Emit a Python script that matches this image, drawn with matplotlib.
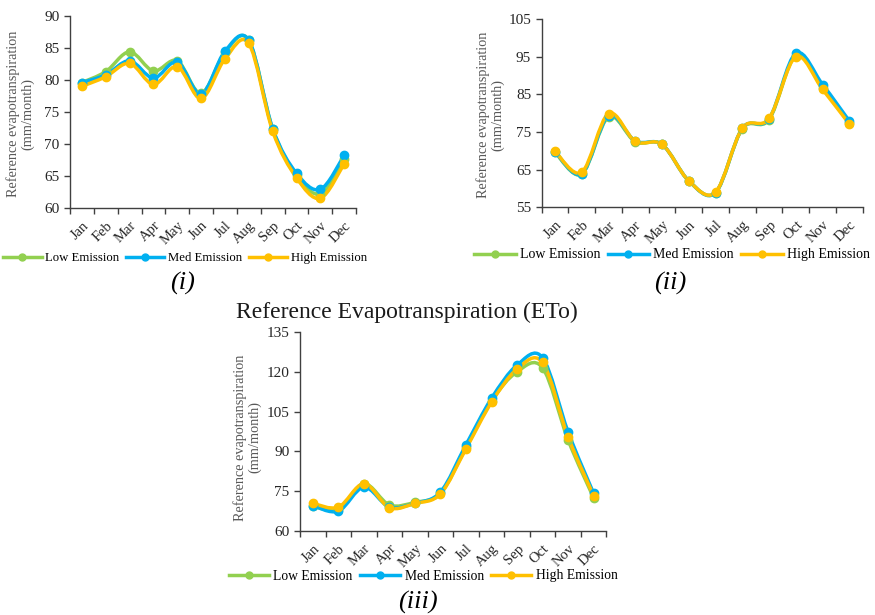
import numpy as np
import matplotlib
matplotlib.use("Agg")
import matplotlib.pyplot as plt
from matplotlib.path import Path
from matplotlib.patches import PathPatch
from matplotlib.lines import Line2D

plt.rcParams['font.family'] = ['Liberation Serif', 'DejaVu Serif']

months = ['Jan', 'Feb', 'Mar', 'Apr', 'May', 'Jun', 'Jul', 'Aug', 'Sep', 'Oct', 'Nov', 'Dec']
scenarios = ['Low Emission', 'Med Emission', 'High Emission']
colors = ['#92D050', '#00B0F0', '#FFC000']

# panel (i)
low_i = [79.6, 81.3, 84.4, 81.4, 83.0, 77.9, 84.3, 86.2, 72.3, 65.1, 62.2, 67.6]
med_i = [79.6, 80.8, 83.0, 80.3, 82.8, 77.8, 84.5, 86.2, 72.4, 65.4, 62.9, 68.2]
high_i = [79.0, 80.5, 82.6, 79.3, 82.1, 77.1, 83.3, 85.7, 72.0, 64.7, 61.5, 66.9]

# panel (ii)
low_ii = [69.6, 63.8, 79.0, 72.4, 71.7, 62.0, 58.9, 75.9, 78.3, 95.3, 86.8, 77.3]
med_ii = [69.8, 63.9, 79.3, 72.6, 71.7, 62.0, 58.9, 76.0, 78.5, 95.9, 87.6, 77.9]
high_ii = [69.9, 64.3, 79.9, 72.5, 71.7, 62.0, 59.0, 76.0, 78.6, 95.0, 86.3, 77.1]

# panel (iii)
low_iii = [69.5, 68.0, 77.8, 69.8, 70.8, 74.2, 91.5, 109.0, 120.0, 121.5, 94.3, 72.5]
med_iii = [69.5, 67.5, 76.5, 69.0, 70.5, 74.7, 92.5, 110.0, 122.5, 125.3, 97.3, 74.2]
high_iii = [70.4, 69.0, 77.8, 68.8, 70.4, 74.0, 91.0, 108.5, 121.0, 123.5, 95.5, 73.3]


def smooth_path(x, y):
    # Bezier segments through the points (same style as a spreadsheet "smoothed line")
    pts = np.column_stack([x, y]).astype(float)
    n = len(pts)
    verts = [pts[0]]
    codes = [Path.MOVETO]
    for i in range(n - 1):
        p0 = pts[i - 1] if i > 0 else pts[i]
        p1 = pts[i]
        p2 = pts[i + 1]
        p3 = pts[i + 2] if i + 2 < n else pts[i + 1]
        c1 = p1 + (p2 - p0) / 6.0
        c2 = p2 - (p3 - p1) / 6.0
        verts += [c1, c2, p2]
        codes += [Path.CURVE4] * 3
    return Path(verts, codes)


def draw_panel(ax, series, ylim, yticks):
    x = np.arange(len(months))
    for vals, c in zip(series, colors):
        ax.add_patch(PathPatch(smooth_path(x, vals), facecolor='none', edgecolor=c,
                               lw=2.5, capstyle='round', joinstyle='round'))
        ax.plot(x, vals, 'o', color=c, ms=6, ls='none')
    ax.set_xlim(-0.5, 11.5)
    ax.set_ylim(*ylim)
    ax.set_yticks(yticks)
    ax.set_xticks(x)
    ax.set_xticks(np.arange(-0.5, 12, 1), minor=True)
    ax.set_xticklabels(months, rotation=45, ha='right', rotation_mode='anchor')
    ax.tick_params(axis='x', which='major', length=0, pad=8, labelsize=10.5, labelcolor='#262626')
    ax.tick_params(axis='x', which='minor', length=4, width=1, color='#404040', direction='out')
    ax.tick_params(axis='y', length=4, width=1, color='#404040', labelsize=11, labelcolor='#262626')
    for s in ['top', 'right']:
        ax.spines[s].set_visible(False)
    for s in ['left', 'bottom']:
        ax.spines[s].set_color('#404040')
        ax.spines[s].set_linewidth(1.0)
    ax.set_ylabel('Reference evapotranspiration\n(mm/month)', fontsize=10.3, color='#595959',
                  linespacing=1.1)


handles = [Line2D([], [], color=c, lw=2.5, marker='o', ms=5) for c in colors]

fig = plt.figure(figsize=(8.75, 6.15), dpi=100)

ax1 = fig.add_axes([0.080, 0.662, 0.327, 0.312])
draw_panel(ax1, [low_i, med_i, high_i], (60, 90), np.arange(60, 91, 5))
ax1.yaxis.set_label_coords(-0.125, 0.49)

ax2 = fig.add_axes([0.619, 0.663, 0.367, 0.306])
draw_panel(ax2, [low_ii, med_ii, high_ii], (55, 105), np.arange(55, 106, 10))
ax2.yaxis.set_label_coords(-0.115, 0.49)

ax3 = fig.add_axes([0.343, 0.1366, 0.350, 0.3236])
draw_panel(ax3, [low_iii, med_iii, high_iii], (60, 135), np.arange(60, 136, 15))
ax3.yaxis.set_label_coords(-0.125, 0.47)

leg_kw = dict(loc='center', ncol=3, frameon=False, handlelength=3.0,
              columnspacing=0.5, handletextpad=0.3, borderaxespad=0)
fig.legend(handles, scenarios, bbox_to_anchor=(185 / 875, 1 - 258 / 615), fontsize=9.2, **leg_kw)
fig.legend(handles, scenarios, bbox_to_anchor=(672 / 875, 1 - 255 / 615), fontsize=10, **leg_kw)
fig.legend(handles, scenarios, bbox_to_anchor=(423 / 875, 1 - 576 / 615), fontsize=9.8, **leg_kw)

fig.text(183 / 875, 1 - 283 / 615, '(i)', fontsize=19, style='italic', ha='center', va='center')
fig.text(670 / 875, 1 - 283 / 615, '(ii)', fontsize=19, style='italic', ha='center', va='center')
fig.text(418 / 875, 1 - 602 / 615, '(iii)', fontsize=19, style='italic', ha='center', va='center')
fig.text(407 / 875, 1 - 312 / 615, 'Reference Evapotranspiration (ETo)', fontsize=17,
         ha='center', va='center', color='#1a1a1a')

fig.savefig('out.png', dpi=100)
